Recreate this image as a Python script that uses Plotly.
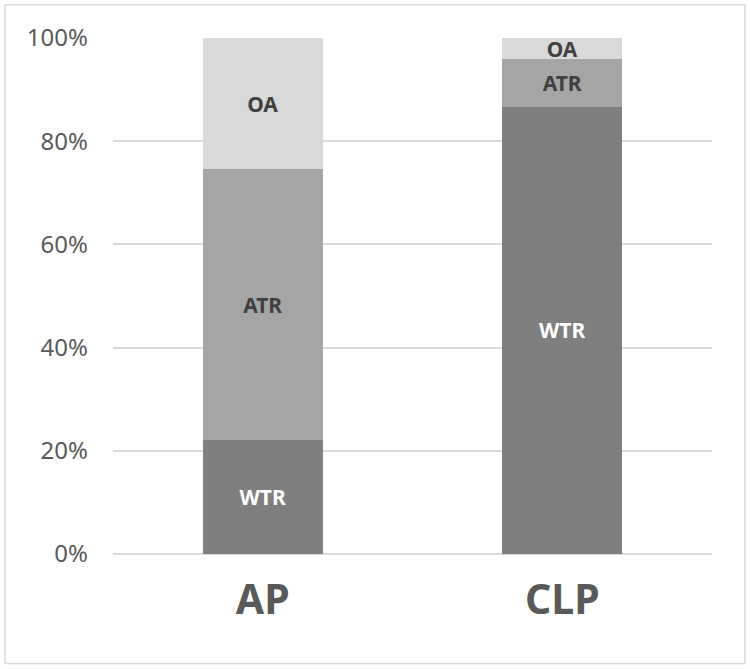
import plotly.graph_objects as go

categories = ["AP", "CLP"]
series_names = ["WTR", "ATR", "OA"]
wtr = [22.1, 86.7]
atr = [52.5, 9.2]
oa = [25.4, 4.1]
y_ticks = [0, 20, 40, 60, 80, 100]
y_tick_labels = ["0%", "20%", "40%", "60%", "80%", "100%"]

colors = {"WTR": "#7f7f7f", "ATR": "#a5a5a5", "OA": "#d9d9d9"}
text_colors = {"WTR": "#ffffff", "ATR": "#404040", "OA": "#404040"}

fig = go.Figure()
for name, vals in zip(series_names, [wtr, atr, oa]):
    fig.add_trace(go.Bar(
        x=categories, y=vals, name=name,
        marker=dict(color=colors[name], line=dict(width=0)),
        text=[name] * len(vals),
        textposition="inside",
        insidetextanchor="middle",
        constraintext="none",
        textfont=dict(family="Noto Sans", size=21, color=text_colors[name], weight="bold"),
        hoverinfo="skip",
    ))

fig.update_layout(
    barmode="stack",
    bargap=0.6,
    width=750, height=669,
    margin=dict(l=113, r=38, t=38, b=115),
    paper_bgcolor="white",
    plot_bgcolor="white",
    showlegend=False,
    uniformtext=dict(mode=False),
    xaxis=dict(
        tickfont=dict(family="Noto Sans", size=41, color="#595959", weight="bold"),
        showline=False, showgrid=False, ticks="",
        ticklabelstandoff=18,
    ),
    yaxis=dict(
        range=[0, 100],
        tickvals=y_ticks, ticktext=y_tick_labels,
        tickfont=dict(family="Noto Sans", size=24, color="#595959"),
        showgrid=True, gridcolor="#d9d9d9", gridwidth=1.5,
        zeroline=True, zerolinecolor="#d9d9d9", zerolinewidth=1.5,
        showline=False, ticks="",
        ticklabelstandoff=24,
    ),
    shapes=[dict(
        type="rect", xref="paper", yref="paper",
        x0=-0.1803, x1=1.0551, y0=-0.212, y1=1.0646,
        line=dict(color="#d9d9d9", width=1.5), fillcolor="rgba(0,0,0,0)",
        layer="below",
    )],
)

fig.write_html("out.html")
